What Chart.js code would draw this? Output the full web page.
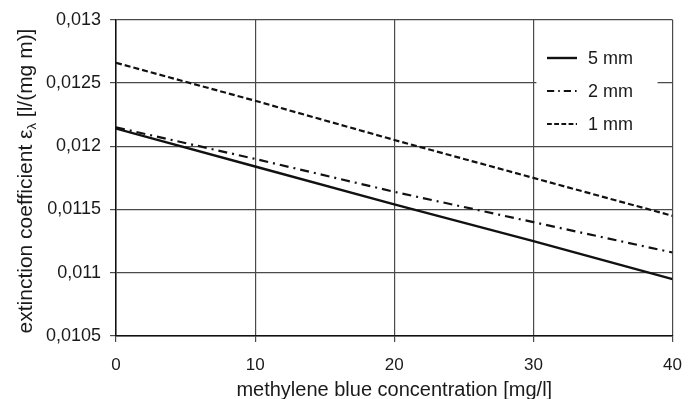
<!DOCTYPE html>
<html>
<head>
<meta charset="utf-8">
<script src="https://cdn.jsdelivr.net/npm/chart.js@4/dist/chart.umd.min.js"></script>
<style>
  html, body { margin: 0; padding: 0; background: #fff; }
  #wrap { width: 695px; height: 399px; position: relative; }
</style>
</head>
<body>
<div id="wrap"><canvas id="c"></canvas></div>
<script>
// Methylene blue concentration [mg/l]
const concentrations = [0, 10, 20, 30, 40];
// Extinction coefficient for each cuvette path length
const series5mm = [0.01214, 0.01184, 0.01154, 0.01125, 0.01095];
const series2mm = [0.01215, 0.01190, 0.01164, 0.01140, 0.01116];
const series1mm = [0.01266, 0.01236, 0.01205, 0.01175, 0.01145];
const seriesNames = ['5 mm', '2 mm', '1 mm'];

const yTicks = [0.0105, 0.011, 0.0115, 0.012, 0.0125, 0.013];
const yTickLabels = ['0,0105', '0,011', '0,0115', '0,012', '0,0125', '0,013'];
const xTicks = [0, 10, 20, 30, 40];
const xTickLabels = ['0', '10', '20', '30', '40'];

const FONT = '"Liberation Sans", Arial, sans-serif';
const INK = '#111';
const TEXT = '#1a1a1a';
const GRID = '#4a4a4a';

const toPoints = ys => concentrations.map((x, i) => ({ x, y: ys[i] }));

const lineStyles = [
  { borderWidth: 2.4, borderDash: [] },
  { borderWidth: 2.2, borderDash: [9, 5, 2, 5] },
  { borderWidth: 2.2, borderDash: [6, 3] }
];

const datasets = [series5mm, series2mm, series1mm].map((ys, i) => ({
  label: seriesNames[i],
  data: toPoints(ys),
  borderColor: INK,
  backgroundColor: INK,
  borderWidth: lineStyles[i].borderWidth,
  borderDash: lineStyles[i].borderDash,
  pointRadius: 0,
  fill: false,
  tension: 0
}));

// Rotated y-axis title with a subscript lambda
const yTitlePlugin = {
  id: 'yTitle',
  afterDraw(chart) {
    const ctx = chart.ctx;
    const parts = [
      { t: 'extinction coefficient ', size: 21, dy: 0 },
      { t: 'ε', size: 21, dy: 0 },
      { t: 'λ', size: 13, dy: 4 },
      { t: ' [l/(mg m)]', size: 21, dy: 0 }
    ];
    ctx.save();
    let total = 0;
    parts.forEach(p => { ctx.font = p.size + 'px ' + FONT; p.w = ctx.measureText(p.t).width; total += p.w; });
    ctx.translate(25, 181);
    ctx.rotate(-Math.PI / 2);
    ctx.fillStyle = TEXT;
    ctx.textBaseline = 'alphabetic';
    let x = -total / 2;
    parts.forEach(p => {
      ctx.font = p.size + 'px ' + FONT;
      ctx.fillText(p.t, x, 7 + p.dy);
      x += p.w;
    });
    ctx.restore();
  }
};

// Legend drawn inside the plot, top right, on a white panel
const legendPlugin = {
  id: 'innerLegend',
  afterDatasetsDraw(chart) {
    const ctx = chart.ctx;
    const xs = chart.scales.x;
    const left = xs.getPixelForValue(30) + 3;
    const right = xs.getPixelForValue(40) - 15;
    ctx.save();
    ctx.fillStyle = '#fff';
    ctx.fillRect(left, 36, right - left, 104);
    chart.data.datasets.forEach((ds, i) => {
      const y = 58 + i * 33;
      ctx.beginPath();
      ctx.strokeStyle = ds.borderColor;
      ctx.lineWidth = ds.borderWidth;
      ctx.setLineDash(ds.borderDash.length ? ds.borderDash.map(v => v * 0.8) : []);
      ctx.moveTo(547, y);
      ctx.lineTo(577, y);
      ctx.stroke();
      ctx.setLineDash([]);
      ctx.fillStyle = TEXT;
      ctx.font = '18px ' + FONT;
      ctx.textBaseline = 'middle';
      ctx.fillText(ds.label, 588, y + 1);
    });
    ctx.restore();
  }
};

new Chart(document.getElementById('c'), {
  type: 'line',
  data: { datasets },
  options: {
    responsive: true,
    maintainAspectRatio: false,
    animation: false,
    devicePixelRatio: 1,
    layout: { padding: { top: 19, right: 21, left: 0, bottom: 0 } },
    plugins: {
      legend: { display: false },
      tooltip: { enabled: false }
    },
    scales: {
      x: {
        type: 'linear',
        min: 0,
        max: 40,
        afterBuildTicks: s => { s.ticks = xTicks.map(v => ({ value: v })); },
        afterFit: s => { s.height = 63; },
        ticks: {
          padding: 13,
          color: TEXT,
          font: { family: FONT, size: 17 },
          maxRotation: 0,
          callback: v => xTickLabels[xTicks.indexOf(v)]
        },
        grid: { color: GRID, lineWidth: 1.2, tickLength: 6, drawTicks: true },
        border: { color: INK, width: 1.5 },
        title: {
          display: true,
          text: 'methylene blue concentration [mg/l]',
          color: TEXT,
          font: { family: FONT, size: 20 },
          padding: { top: 0, bottom: -3 }
        }
      },
      y: {
        type: 'linear',
        min: 0.0105,
        max: 0.013,
        afterBuildTicks: s => { s.ticks = yTicks.map(v => ({ value: v })); },
        afterFit: s => { s.width = 116; },
        ticks: {
          padding: 9,
          color: TEXT,
          font: { family: FONT, size: 18 },
          callback: v => {
            const i = yTicks.findIndex(t => Math.abs(t - v) < 1e-9);
            return i >= 0 ? yTickLabels[i] : '';
          }
        },
        grid: { color: GRID, lineWidth: 1.2, tickLength: 6, drawTicks: true },
        border: { color: INK, width: 1.5 }
      }
    }
  },
  plugins: [yTitlePlugin, legendPlugin]
});
</script>
</body>
</html>
